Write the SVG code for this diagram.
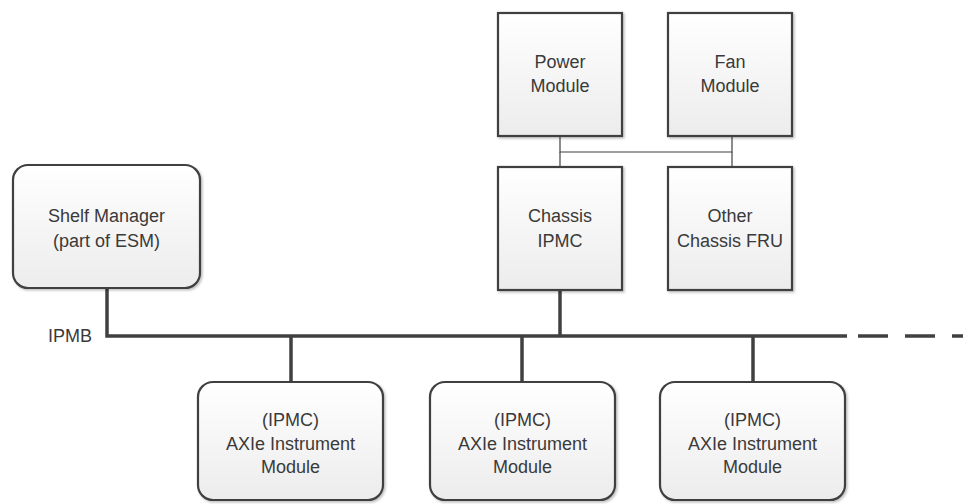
<svg xmlns="http://www.w3.org/2000/svg" width="963" height="504" viewBox="0 0 963 504">
<defs>
<linearGradient id="g" x1="0" y1="0" x2="0" y2="1">
<stop offset="0" stop-color="#ffffff"/>
<stop offset="1" stop-color="#ececec"/>
</linearGradient>
<filter id="sh" x="-10%" y="-10%" width="130%" height="130%">
<feDropShadow dx="1.5" dy="1.5" stdDeviation="1.2" flood-color="#000" flood-opacity="0.25"/>
</filter>
</defs>
<style>
.box{fill:url(#g);stroke:#404040;stroke-width:2.2;filter:url(#sh)}
text{font-family:"Liberation Sans",Arial,sans-serif;font-size:18px;fill:#3a3a3a;text-anchor:middle}
.bus{stroke:#404040;stroke-width:3.5;fill:none}
.thin{stroke:#404040;stroke-width:1.2;fill:none}
</style>
<g id="connectors">
<polyline class="thin" points="560,136 560,152 732,152 732,136"/>
<line class="thin" x1="560" y1="152" x2="560" y2="167"/>
<line class="thin" x1="732" y1="152" x2="732" y2="167"/>
<polyline class="bus" points="107,288 107,336 847,336"/>
<line class="bus" x1="858" y1="336" x2="963" y2="336" stroke-dasharray="30,17"/>
<line class="bus" x1="560" y1="290" x2="560" y2="336"/>
<line class="bus" x1="291" y1="336" x2="291" y2="382"/>
<line class="bus" x1="522" y1="336" x2="522" y2="382"/>
<line class="bus" x1="753" y1="336" x2="753" y2="382"/>
<text x="70" y="342" style="text-anchor:middle">IPMB</text>
</g>
<g id="shelf-manager">
<rect class="box" x="13" y="165" width="187" height="123" rx="15"/>
<text x="106.5" y="222">Shelf Manager</text>
<text x="106.5" y="247">(part of ESM)</text>
</g>
<g id="power-module">
<rect class="box" x="498" y="13" width="124" height="123"/>
<text x="560" y="68">Power</text>
<text x="560" y="92">Module</text>
</g>
<g id="fan-module">
<rect class="box" x="668" y="13" width="124" height="123"/>
<text x="730" y="68">Fan</text>
<text x="730" y="92">Module</text>
</g>
<g id="chassis-ipmc">
<rect class="box" x="498" y="167" width="124" height="123"/>
<text x="560" y="222">Chassis</text>
<text x="560" y="247">IPMC</text>
</g>
<g id="other-chassis-fru">
<rect class="box" x="668" y="167" width="124" height="123"/>
<text x="730" y="222">Other</text>
<text x="730" y="247">Chassis FRU</text>
</g>
<g id="axie-module-1">
<rect class="box" x="198" y="382" width="185" height="118" rx="15"/>
<text x="290.5" y="426">(IPMC)</text>
<text x="290.5" y="449.5">AXIe Instrument</text>
<text x="290.5" y="473">Module</text>
</g>
<g id="axie-module-2">
<rect class="box" x="430" y="382" width="185" height="118" rx="15"/>
<text x="522.5" y="426">(IPMC)</text>
<text x="522.5" y="449.5">AXIe Instrument</text>
<text x="522.5" y="473">Module</text>
</g>
<g id="axie-module-3">
<rect class="box" x="660" y="382" width="185" height="118" rx="15"/>
<text x="752.5" y="426">(IPMC)</text>
<text x="752.5" y="449.5">AXIe Instrument</text>
<text x="752.5" y="473">Module</text>
</g>
</svg>
